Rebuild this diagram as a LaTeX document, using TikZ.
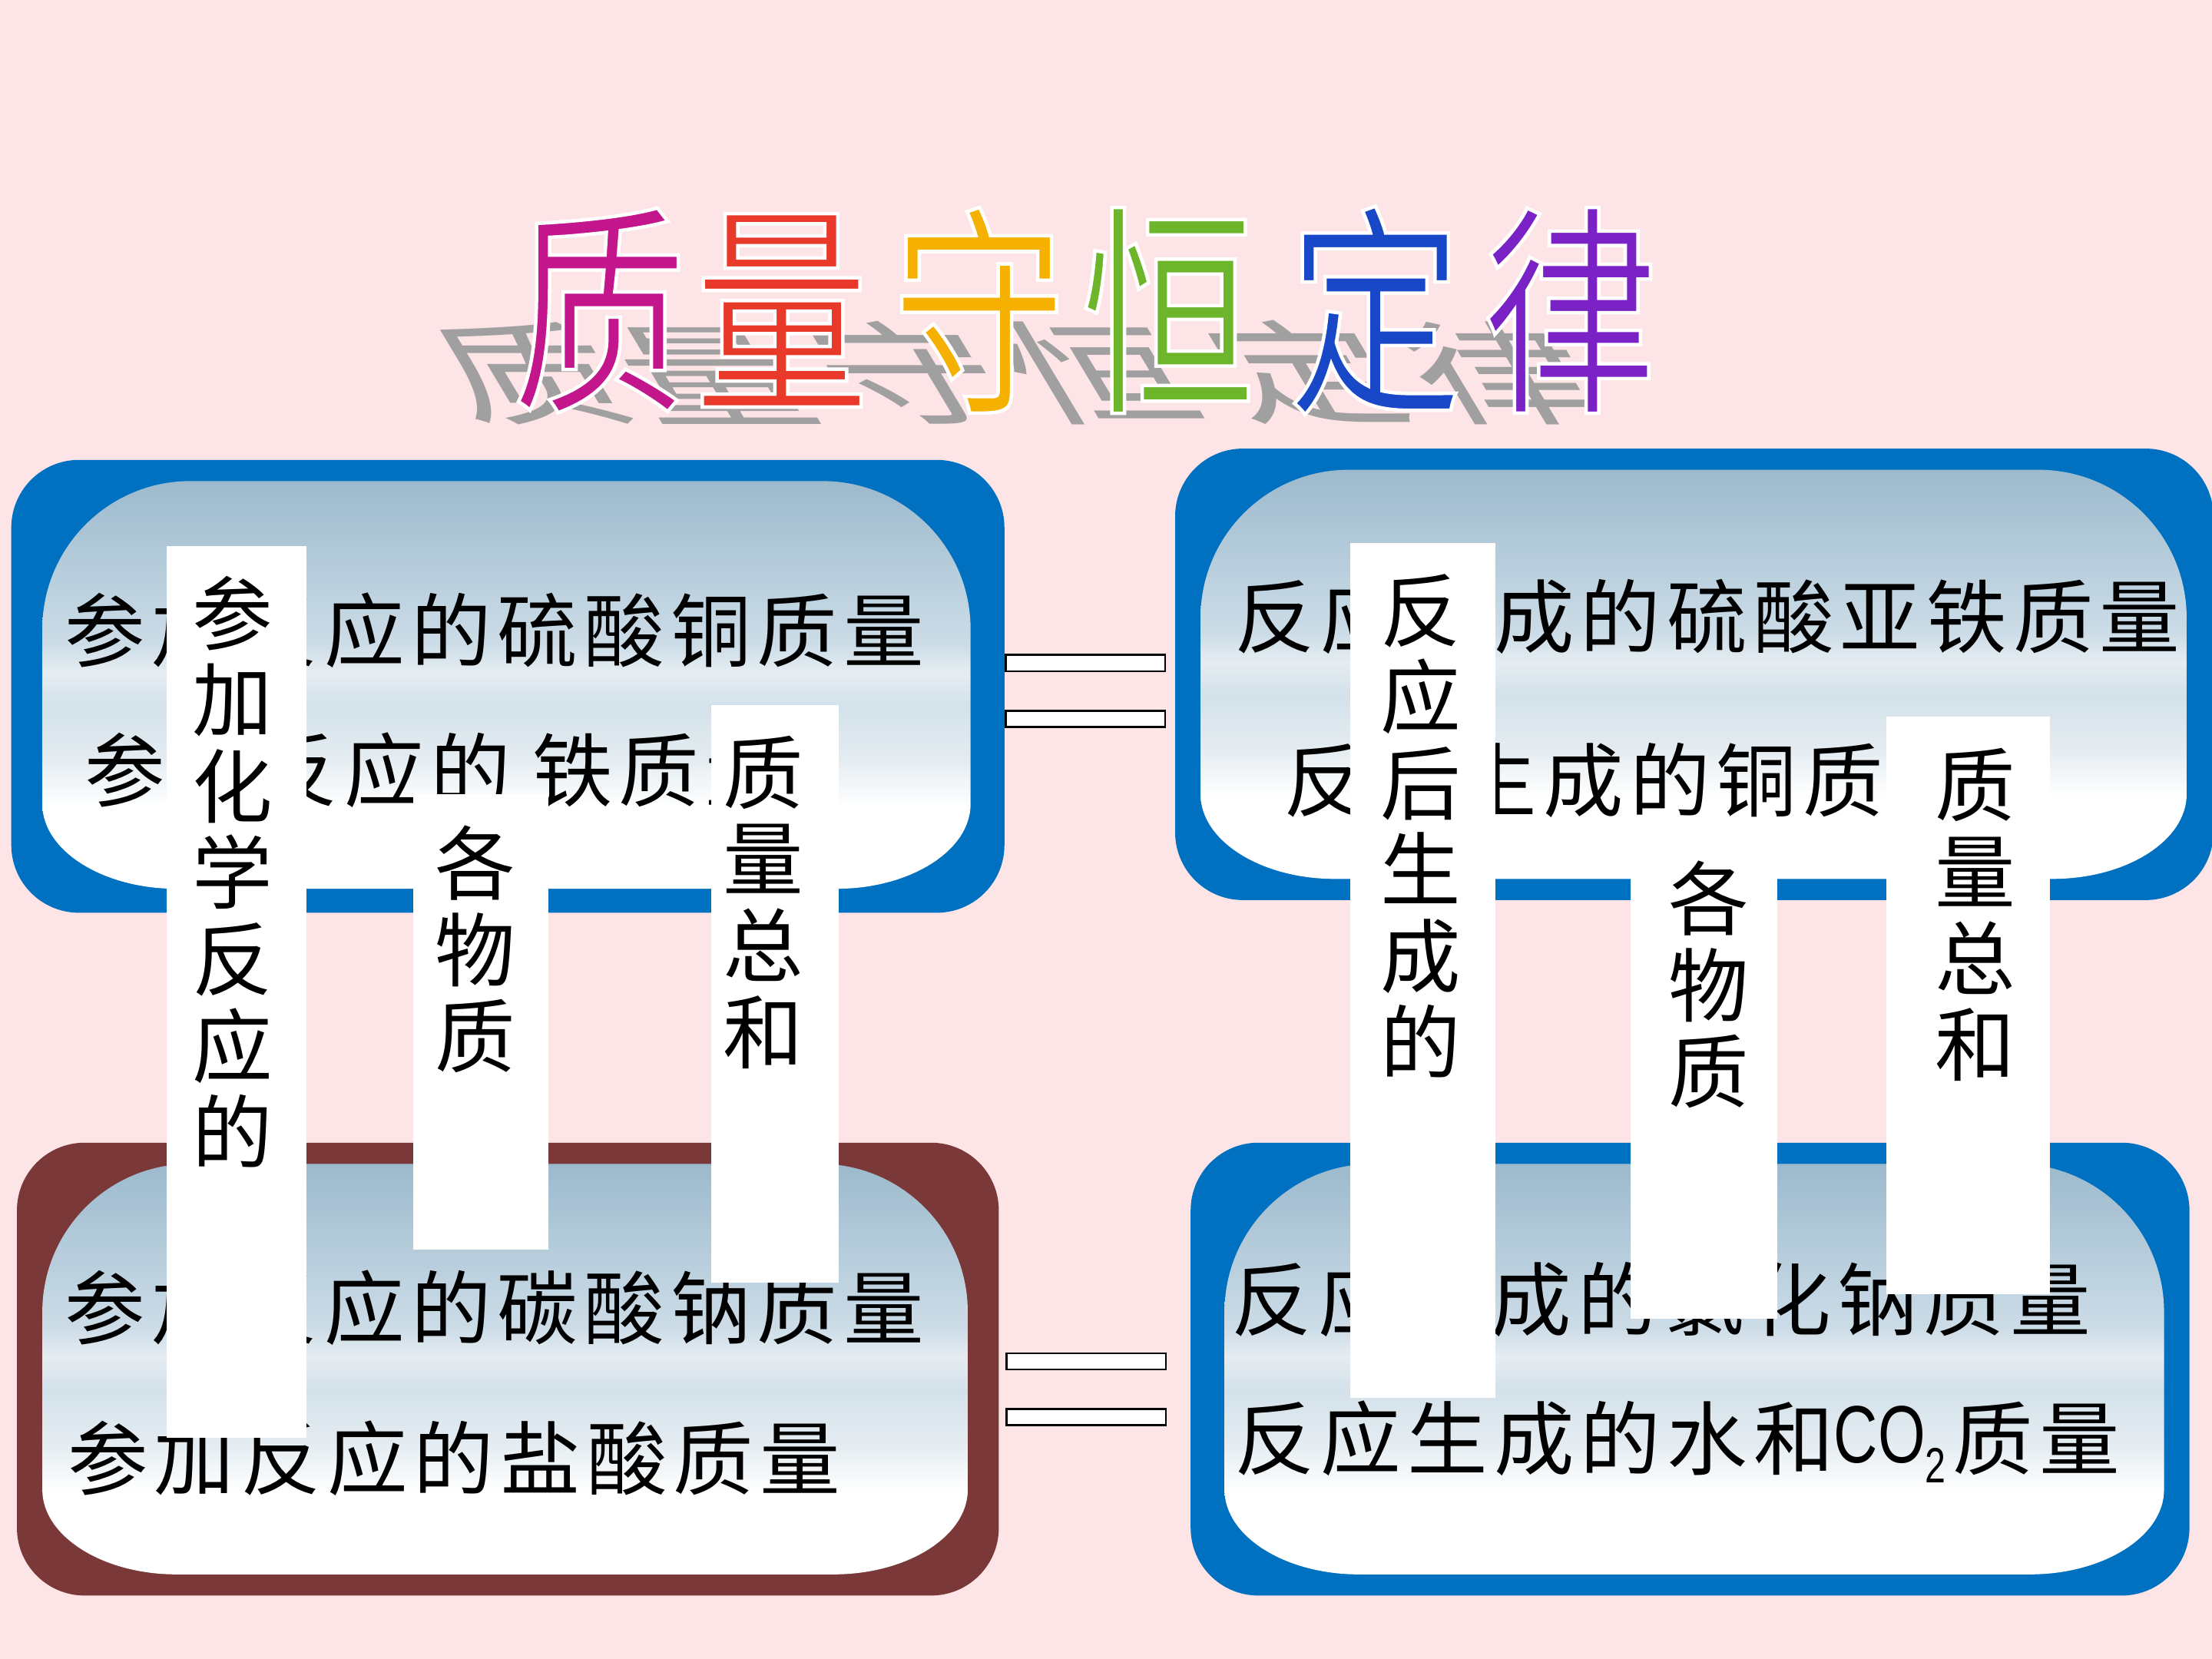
\documentclass[tikz,border=0pt]{standalone}
\usepackage{fontspec}
\newfontfamily\cjk{Noto Sans CJK SC}
\newfontfamily\cjksp[LetterSpace=7.7]{Noto Sans CJK SC}
\newfontfamily\cjknarrow[FakeStretch=0.78]{Noto Sans CJK SC}
\newfontfamily\narrowlatin[FakeStretch=0.75]{Liberation Sans}
\definecolor{bgpink}{HTML}{FDE4E6}
\definecolor{boxblue}{HTML}{0070C0}
\definecolor{boxred}{HTML}{7A3838}
\definecolor{gtop}{HTML}{9CBACD}
\definecolor{gmid}{HTML}{CCDCE7}
\definecolor{gband}{HTML}{E6EDF2}
\definecolor{glow}{HTML}{D3E1EA}
\definecolor{glowb}{HTML}{E4ECF1}
\definecolor{tA}{HTML}{C4168C}
\definecolor{tB}{HTML}{E8392A}
\definecolor{tC}{HTML}{F5B000}
\definecolor{tD}{HTML}{6DB52B}
\definecolor{tE}{HTML}{1848C8}
\definecolor{tF}{HTML}{7A22C6}
\definecolor{shadowgray}{HTML}{A0A0A0}
\pgfdeclareverticalshading{innergrad}{100bp}{color(0bp)=(white); color(35bp)=(white); color(41bp)=(glowb); color(47.5bp)=(glow); color(51.5bp)=(gband); color(55bp)=(gmid); color(75bp)=(gtop); color(100bp)=(gtop)}
% inner capsule shape: x1 y1 x2 y2 (y grows downward)
\newcommand\capsule[4]{(#1,{#2+105}) .. controls (#1,{#2+47}) and ({#1+47},#2) .. ({#1+105},#2)
 -- ({#3-105},#2) .. controls ({#3-47},#2) and (#3,{#2+47}) .. (#3,{#2+105})
 -- (#3,{#4-60}) .. controls (#3,{#4-27}) and ({#3-43},#4) .. ({#3-95},#4)
 -- ({#1+95},#4) .. controls ({#1+43},#4) and (#1,{#4-27}) .. (#1,{#4-60}) -- cycle}
% outlined title glyph (white halo, thinner strokes)
\newcommand\haloglyph[1]{\special{pdf:literal direct 2 Tr 1 1 1 RG 3.5 w}#1\special{pdf:literal direct 0 Tr}}
\tikzset{
  outerbox/.style={rounded corners=2.4cm},
  innerfill/.style={shading=innergrad},
  boxtext/.style={anchor=west, inner sep=0pt, font=\cjksp\fontsize{81}{87}\selectfont},
  vtext/.style={anchor=center, inner sep=0pt, align=center, font=\cjk\fontsize{81}{87.2}\selectfont},
  stripbox/.style={fill=white},
  eqbar/.style={draw=black, fill=white, line width=2pt, minimum width=5.65cm, minimum height=0.575cm, inner sep=0pt},
  titlechar/.style={inner sep=0pt, anchor=center, font=\cjknarrow\fontsize{226}{230}\selectfont},
  shadowchar/.style={inner sep=0pt, anchor=south, text=shadowgray, transform shape, font=\cjknarrow\fontsize{226}{230}\selectfont},
}
\newcommand\shadowat[3]{\begin{scope}[shift={(#1,301)}, xslant=-0.6, yscale=0.5]\node[shadowchar] (#3) at (0,0) {#2};\end{scope}}
\begin{document}
\begin{tikzpicture}[x=0.05cm, y=-0.05cm]
\useasboundingbox (0,0) rectangle (1568,1176);
\fill[bgpink] (0,0) rectangle (1568,1176);

% title shadow
\shadowat{397}{质}{sA}
\shadowat{526}{量}{sB}
\shadowat{666}{守}{sC}
\shadowat{800}{恒}{sD}
\shadowat{947}{定}{sE}
\shadowat{1085}{律}{sF}
% title
\node[titlechar, text=tA] (tiA) at (425,220) {\haloglyph{质}};
\node[titlechar, text=tB] (tiB) at (554,220) {\haloglyph{量}};
\node[titlechar, text=tC] (tiC) at (694,220) {\haloglyph{守}};
\node[titlechar, text=tD] (tiD) at (828,220) {\haloglyph{恒}};
\node[titlechar, text=tE] (tiE) at (975,220) {\haloglyph{定}};
\node[titlechar, text=tF] (tiF) at (1113,220) {\haloglyph{律}};

% boxes
\fill[boxblue, outerbox] (8,326) rectangle (712,647);
\path[innerfill] \capsule{30}{341}{688}{630};
\fill[boxblue, outerbox] (833,318) rectangle (1569,638);
\path[innerfill] \capsule{851}{333}{1550}{623};
\fill[boxred, outerbox] (12,810) rectangle (708,1131);
\path[innerfill] \capsule{30}{825}{686}{1116};
\fill[boxblue, outerbox] (844,810) rectangle (1552,1131);
\path[innerfill] \capsule{868}{825}{1534}{1116};

% box texts
\node[boxtext] (tl1) at (46,447) {参加反应的硫酸铜质量};
\node[boxtext] (tl2) at (60,546) {参加反应的\hspace{0.75cm}铁质量};
\node[boxtext] (tr1) at (875,437) {反应生成的硫酸亚铁质量};
\node[boxtext] (tr2) at (910,553) {反应生成的铜质量};
\node[boxtext] (bl1) at (46,927) {参加反应的碳酸钠质量};
\node[boxtext] (bl2) at (48,1034) {参加反应的盐酸质量};
\node[boxtext] (br1) at (873,921) {反应生成的氯化钠质量};
\node[boxtext] (br2) at (875,1022) {反应生成的水和{\narrowlatin\fontsize{82}{86}\selectfont\raisebox{0.2cm}{CO}}{\narrowlatin\fontsize{50}{54}\selectfont\raisebox{-0.5cm}{2}}\hspace{0.25cm}质量};

% equals signs
\node[eqbar] (eqA1) at (769.5,470) {};
\node[eqbar] (eqA2) at (769.5,509.5) {};
\node[eqbar] (eqB1) at (770,965) {};
\node[eqbar] (eqB2) at (770,1004.5) {};

% white strips with vertical text
\fill[stripbox] (118,387) rectangle (217,1019);
\fill[stripbox] (293,563) rectangle (389,886);
\fill[stripbox] (504,500) rectangle (594.5,909);
\fill[stripbox] (957,385) rectangle (1060,991);
\fill[stripbox] (1156,622) rectangle (1260,935);
\fill[stripbox] (1337,508) rectangle (1453,917.5);

\node[vtext] (v1) at (165,618) {参\\加\\化\\学\\反\\应\\的};
\node[vtext] (v2) at (337,673) {各\\物\\质};
\node[vtext] (v3) at (541,639.5) {质\\量\\总\\和};
\node[vtext] (v4) at (1007,585.5) {反\\应\\后\\生\\成\\的};
\node[vtext] (v5) at (1211,698) {各\\物\\质};
\node[vtext] (v6) at (1400,648.5) {质\\量\\总\\和};
\end{tikzpicture}
\end{document}
